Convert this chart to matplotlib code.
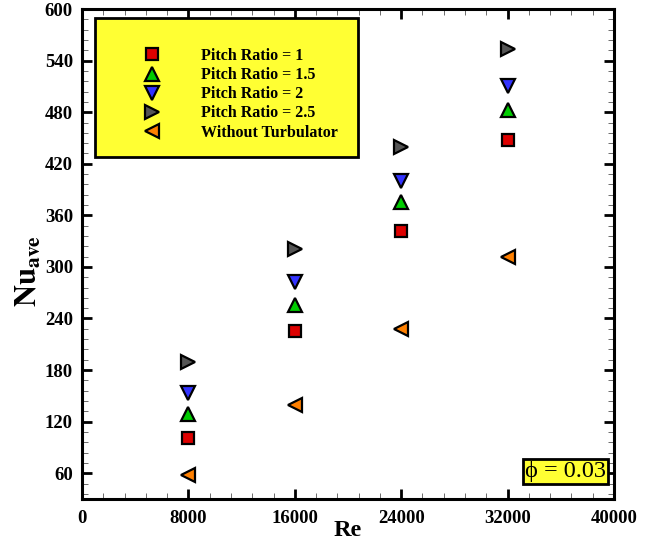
import matplotlib
matplotlib.use("Agg")
import matplotlib.pyplot as plt
from matplotlib.patches import Rectangle
from matplotlib.ticker import MultipleLocator

plt.rcParams["font.family"] = ["Liberation Serif", "DejaVu Serif"]
plt.rcParams["mathtext.fontset"] = "stix"

# Average Nusselt number vs Reynolds number
re_values = [8000, 16000, 24000, 32000]
nu_pr1 = [101, 225, 342, 448]
nu_pr15 = [129, 256, 375, 483]
nu_pr2 = [153, 283, 400, 511]
nu_pr25 = [189, 321, 440, 553]
nu_plain = [58, 139, 228, 312]

series = [
    ("Pitch Ratio = 1", nu_pr1, "s", "#dd0000", 9),
    ("Pitch Ratio = 1.5", nu_pr15, "^", "#00cc00", 10.5),
    ("Pitch Ratio = 2", nu_pr2, "v", "#3333ff", 10.5),
    ("Pitch Ratio = 2.5", nu_pr25, ">", "#555555", 10.5),
    ("Without Turbulator", nu_plain, "<", "#ff8000", 10.5),
]

fig = plt.figure(figsize=(6.58, 5.45), dpi=100)
ax = fig.add_axes([0.1246, 0.0844, 0.8085, 0.899])

for label, vals, mk, col, ms in series:
    ax.plot(re_values, vals, linestyle="none", marker=mk, markersize=ms,
            markerfacecolor=col, markeredgecolor="black", markeredgewidth=1.6,
            label=label, zorder=3)

ax.set_xlim(0, 40000)
ax.set_ylim(30, 600)
ax.xaxis.set_major_locator(MultipleLocator(8000))
ax.xaxis.set_minor_locator(MultipleLocator(1600))
ax.yaxis.set_major_locator(MultipleLocator(60))
ax.yaxis.set_minor_locator(MultipleLocator(12))
ax.tick_params(which="both", direction="in", top=True, right=True)
ax.tick_params(which="major", length=7, width=2)
ax.tick_params(which="minor", length=4, width=0.6, color="#555555")
ax.tick_params(axis="x", which="major", pad=8)
ax.tick_params(axis="y", which="major", pad=6.5)
for lbl in ax.get_xticklabels() + ax.get_yticklabels():
    lbl.set_fontsize(13.5)
    lbl.set_fontweight("bold")
for sp in ax.spines.values():
    sp.set_linewidth(2.2)

ax.set_xlabel("Re", fontsize=17.5, fontweight="bold")
ax.xaxis.set_label_coords(0.5, -0.042)
ax.set_ylabel(r"$\mathbf{Nu_{ave}}$", fontsize=22)
ax.yaxis.set_label_coords(-0.072, 0.465)

# legend box
box = Rectangle((0.0244, 0.698), 0.4946, 0.2836, transform=ax.transAxes,
                facecolor="#ffff33", edgecolor="black", linewidth=2, zorder=4)
ax.add_patch(box)
leg = ax.legend(loc="center", bbox_to_anchor=(0.295, 0.826), frameon=False,
                prop={"size": 11.5, "weight": "bold"}, handlelength=1.5,
                handletextpad=2.3, labelspacing=0.2, borderpad=0)
leg.set_zorder(5)

ax.text(0.985, 0.056, "\u03d5 = 0.03", transform=ax.transAxes, fontsize=17.5,
        ha="right", va="center",
        bbox=dict(boxstyle="square,pad=0.1", facecolor="#ffff33",
                  edgecolor="black", linewidth=2))

fig.savefig("out.png", dpi=100)
